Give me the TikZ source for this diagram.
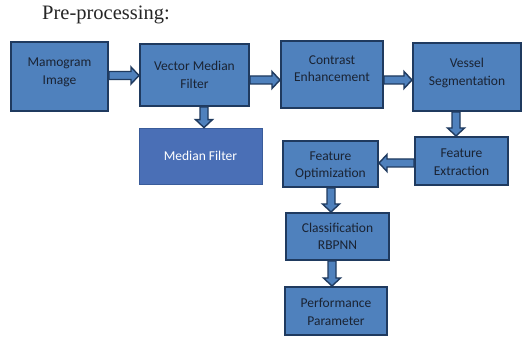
\documentclass[tikz,border=0pt]{standalone}
\usepackage{fontspec}
\setmainfont{Carlito}
\newfontfamily\titlefont{Liberation Serif}
\usetikzlibrary{calc}
\definecolor{boxblue}{HTML}{4F81BD}
\definecolor{boxedge}{HTML}{1F3A5F}
\definecolor{mfblue}{HTML}{4A6FB6}
\definecolor{mfedge}{HTML}{3A5C9A}
\definecolor{txt}{HTML}{1A2333}
\tikzset{
  procbox/.style={draw=boxedge, line width=2pt, fill=boxblue, inner sep=0pt},
  boxtext/.style={text=txt, align=center, inner sep=0pt, font=\fontsize{13.5}{17.5}\selectfont},
  mfbox/.style={draw=mfedge, line width=0.8pt, fill=mfblue, text=white, align=center,
    inner sep=0pt, font=\fontsize{13.5}{17.5}\selectfont},
  barrowsty/.style={draw=boxedge, line width=1.4pt, fill=boxblue, line join=miter},
}
\newcommand\blockarrow[2]{%
  \coordinate (ba-h) at ($(#2)!8pt!(#1)$);
  \draw[barrowsty] ($(#1)!4pt!90:(#2)$) -- ($(ba-h)!4pt!90:(#2)$) -- ($(ba-h)!8.5pt!90:(#2)$)
    -- (#2) -- ($(ba-h)!8.5pt!-90:(#2)$) -- ($(ba-h)!4pt!-90:(#2)$) -- ($(#1)!4pt!-90:(#2)$) -- cycle;
}
\begin{document}
\begin{tikzpicture}[x=1pt,y=-1pt]
\useasboundingbox (0,0) rectangle (523,339);
\fill[white] (0,0) rectangle (523,339);
\node[anchor=base west, inner sep=0pt, font=\titlefont\fontsize{20.5}{24}\selectfont, text=black!85] (title) at (42,20) {Pre-processing:};

\node[procbox, minimum width=97pt, minimum height=69pt] (mam) at (59.5,76.5) {};
\node[procbox, minimum width=109pt, minimum height=62pt] (vmf) at (194.5,75) {};
\node[procbox, minimum width=102pt, minimum height=67pt] (ce) at (332,74.5) {};
\node[procbox, minimum width=108pt, minimum height=68pt] (vs) at (467,77) {};
\node[procbox, minimum width=93pt, minimum height=48pt] (fe) at (461.5,161) {};
\node[procbox, minimum width=95pt, minimum height=46pt] (fo) at (330.5,164) {};
\node[mfbox, minimum width=123pt, minimum height=56pt] (mf) at (200.5,156) {Median Filter};
\node[procbox, minimum width=103pt, minimum height=47pt] (cl) at (337.5,236.5) {};
\node[procbox, minimum width=102pt, minimum height=48pt] (pp) at (336,311) {};

\node[boxtext] (mam-t) at ([yshift=4pt]mam.center) {Mamogram\\Image};
\node[boxtext] (vmf-t) at (vmf.center) {Vector Median\\Filter};
\node[boxtext] (ce-t) at ([yshift=6pt]ce.center) {Contrast\\Enhancement};
\node[boxtext] (vs-t) at ([yshift=4pt]vs.center) {Vessel\\Segmentation};
\node[boxtext] (fe-t) at ([yshift=-1pt]fe.center) {Feature\\Extraction};
\node[boxtext] (fo-t) at ([yshift=-2pt]fo.center) {Feature\\Optimization};
\node[boxtext] (cl-t) at (cl.center) {Classification\\RBPNN};
\node[boxtext] (pp-t) at ([yshift=-1pt]pp.center) {Performance\\Parameter};

\blockarrow{[yshift=1pt]mam.east}{[yshift=1pt]mam.east -| vmf.west}
\blockarrow{[yshift=-5pt]vmf.east}{[yshift=-5pt]vmf.east -| ce.west}
\blockarrow{[yshift=-5.5pt]ce.east}{[yshift=-5.5pt]ce.east -| vs.west}
\blockarrow{[xshift=9.5pt]vmf.south}{[xshift=9.5pt]vmf.south |- mf.north}
\blockarrow{[xshift=-11pt]vs.south}{[xshift=-11pt]vs.south |- fe.north}
\blockarrow{[yshift=-2pt]fe.west}{[yshift=-2pt]fe.west -| fo.east}
\blockarrow{[xshift=0.5pt]fo.south}{[xshift=0.5pt]fo.south |- cl.north}
\blockarrow{[xshift=-5.5pt]cl.south}{[xshift=-5.5pt]cl.south |- pp.north}
\end{tikzpicture}
\end{document}
